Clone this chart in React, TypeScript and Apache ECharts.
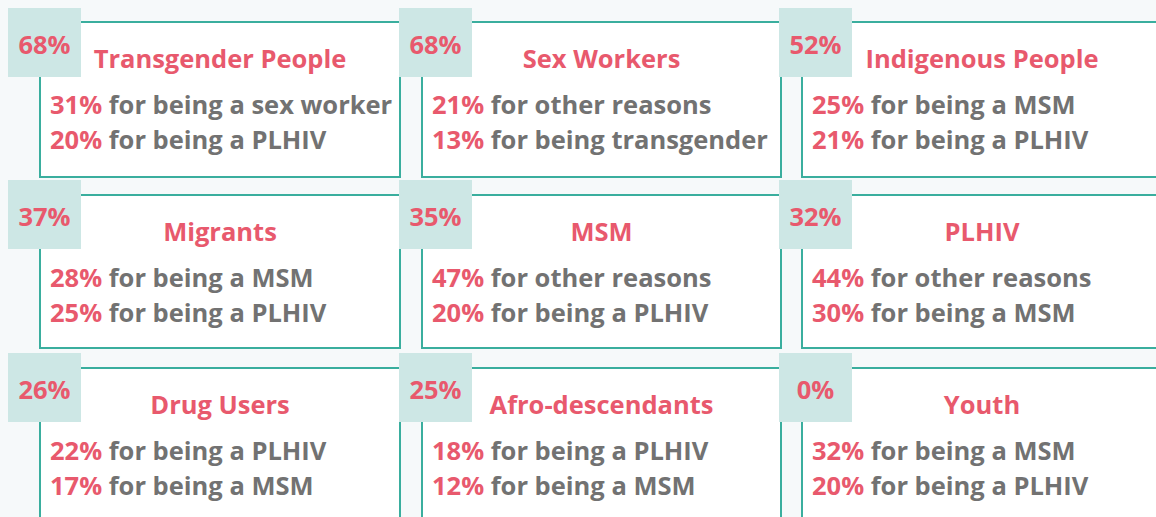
import React, { useEffect, useRef } from "react";
import * as echarts from "echarts";

// ---- data ----
const groups = [
  "Transgender People", "Sex Workers", "Indigenous People",
  "Migrants", "MSM", "PLHIV",
  "Drug Users", "Afro-descendants", "Youth",
];
const overallPct = [68, 68, 52, 37, 35, 32, 26, 25, 0];
const reason1Pct = [31, 21, 25, 28, 47, 44, 22, 18, 32];
const reason1Text = [
  "for being a sex worker", "for other reasons", "for being a MSM",
  "for being a MSM", "for other reasons", "for other reasons",
  "for being a PLHIV", "for being a PLHIV", "for being a MSM",
];
const reason2Pct = [20, 13, 21, 25, 20, 30, 17, 12, 20];
const reason2Text = [
  "for being a PLHIV", "for being transgender", "for being a PLHIV",
  "for being a PLHIV", "for being a PLHIV", "for being a MSM",
  "for being a MSM", "for being a MSM", "for being a PLHIV",
];

// ---- layout ----
const W = 1156;
const H = 517;
const badgeX = [8, 399, 779];
const boxL = [40, 422, 802];
const boxR = [400, 781, 1164];
const badgeY = [8, 180, 353];
const boxT = [22, 195, 368];
const boxB = [177, 348, 523];
const BADGE_W = 73;
const BADGE_H = 69;

const PINK = "#e8596d";
const GRAY = "#727272";
const TEAL = "#3aae9e";
const BADGE = "#cde7e5";
const BG = "#f6f9fa";
const FONT = "'Open Sans', Lato, sans-serif";
const FS = 25.5;
const FW = 700;

function buildGraphic() {
  const els: any[] = [];
  els.push({ type: "rect", shape: { x: 0, y: 0, width: W, height: H }, style: { fill: BG }, z: 0 });
  const f = `${FW} ${FS}px ${FONT}`;
  groups.forEach((name, i) => {
    const c = i % 3;
    const r = Math.floor(i / 3);
    const l = boxL[c];
    const rt = boxR[c];
    const t = boxT[r];
    const b = boxB[r];
    els.push({
      type: "rect",
      shape: { x: l, y: t, width: rt - l, height: b - t },
      style: { fill: "#ffffff", stroke: TEAL, lineWidth: 2 },
      z: 1,
    });
    els.push({
      type: "rect",
      shape: { x: badgeX[c], y: badgeY[r], width: BADGE_W, height: BADGE_H },
      style: { fill: BADGE },
      z: 2,
    });
    els.push({
      type: "text",
      x: badgeX[c] + BADGE_W / 2,
      y: badgeY[r] + BADGE_H / 2 + 1,
      style: { text: overallPct[i] + "%", fill: PINK, font: f, align: "center", verticalAlign: "middle" },
      z: 3,
    });
    els.push({
      type: "text",
      x: (l + Math.min(rt, l + 360)) / 2,
      y: t + 36,
      style: { text: name, fill: PINK, font: f, align: "center", verticalAlign: "middle" },
      z: 3,
    });
    const rich = {
      p: { fill: PINK, font: f },
      g: { fill: GRAY, font: f },
    };
    els.push({
      type: "text",
      x: l + 10,
      y: t + 82,
      style: { text: `{p|${reason1Pct[i]}%} {g|${reason1Text[i]}}`, rich, font: f, align: "left", verticalAlign: "middle" },
      z: 3,
    });
    els.push({
      type: "text",
      x: l + 10,
      y: t + 117,
      style: { text: `{p|${reason2Pct[i]}%} {g|${reason2Text[i]}}`, rich, font: f, align: "left", verticalAlign: "middle" },
      z: 3,
    });
  });
  return els;
}

export default function App() {
  const ref = useRef<HTMLDivElement>(null);
  useEffect(() => {
    document.body.style.margin = "0";
    const chart = echarts.init(ref.current!, null, { renderer: "svg" });
    chart.setOption({
      animation: false,
      backgroundColor: BG,
      graphic: { elements: buildGraphic() },
    });
    return () => chart.dispose();
  }, []);
  return (
    <div
      ref={ref}
      style={{ position: "absolute", left: 0, top: 0, width: W, height: H, overflow: "hidden" }}
    />
  );
}
